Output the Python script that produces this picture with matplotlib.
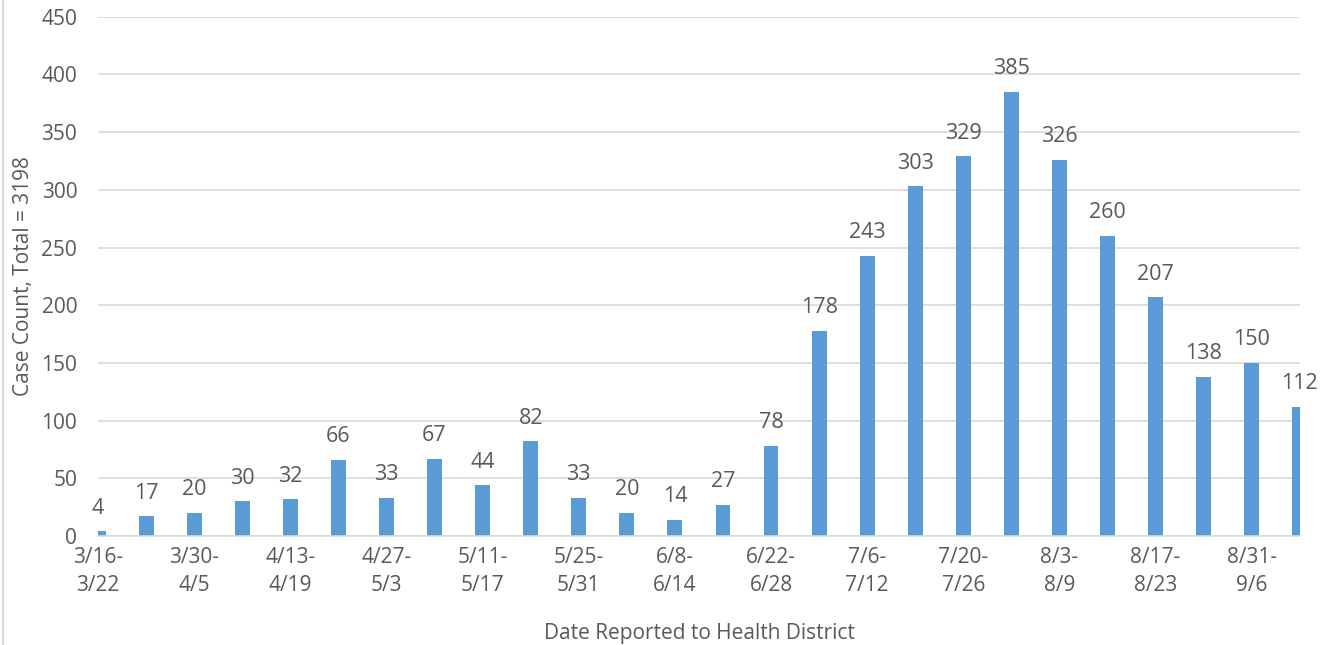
import matplotlib.pyplot as plt
from matplotlib.lines import Line2D

plt.rcParams['font.family'] = ['Open Sans', 'DejaVu Sans']

weeks = ["3/16-\n3/22", "3/23-\n3/29", "3/30-\n4/5", "4/6-\n4/12", "4/13-\n4/19",
         "4/20-\n4/26", "4/27-\n5/3", "5/4-\n5/10", "5/11-\n5/17", "5/18-\n5/24",
         "5/25-\n5/31", "6/1-\n6/7", "6/8-\n6/14", "6/15-\n6/21", "6/22-\n6/28",
         "6/29-\n7/5", "7/6-\n7/12", "7/13-\n7/19", "7/20-\n7/26", "7/27-\n8/2",
         "8/3-\n8/9", "8/10-\n8/16", "8/17-\n8/23", "8/24-\n8/30", "8/31-\n9/6",
         "9/7-\n9/13"]
cases = [4, 17, 20, 30, 32, 66, 33, 67, 44, 82, 33, 20, 14, 27, 78,
         178, 243, 303, 329, 385, 326, 260, 207, 138, 150, 112]

text_col = '#595959'
grid_col = '#d9d9d9'

fig = plt.figure(figsize=(13.25, 6.45), dpi=100)
ax = fig.add_axes([0.074, 0.169, 0.907, 0.805])

x = list(range(len(cases)))
bars = ax.bar(x, cases, width=0.31, color='#5b9bd5', zorder=2)
for xi, v in zip(x, cases):
    ax.annotate(str(v), (xi, v), xytext=(0, 9), textcoords='offset points',
                ha='center', va='bottom', fontsize=15.5, color=text_col)

ax.set_xlim(0, len(cases) - 1)
ax.set_ylim(0, 450)
ax.set_yticks(range(0, 451, 50))
ax.set_xticks(x[::2])
ax.set_xticklabels(weeks[::2], linespacing=1.45)
ax.tick_params(axis='both', length=0, labelsize=15, colors=text_col)
ax.tick_params(axis='x', pad=8)
ax.tick_params(axis='y', pad=15)
ax.grid(axis='y', color=grid_col, linewidth=1.2, zorder=0)
for s in ['top', 'right', 'left']:
    ax.spines[s].set_visible(False)
ax.spines['bottom'].set_color(grid_col)
ax.spines['bottom'].set_linewidth(1.2)

ax.set_ylabel('Case Count, Total = 3198', fontsize=15, color=text_col, labelpad=5)
ax.set_xlabel('Date Reported to Health District', fontsize=15, color=text_col, labelpad=19)

fig.add_artist(Line2D([0.002, 0.002], [0, 1], transform=fig.transFigure,
                      color='#d9d9d9', linewidth=1.5))

fig.savefig('out.png', dpi=100)
